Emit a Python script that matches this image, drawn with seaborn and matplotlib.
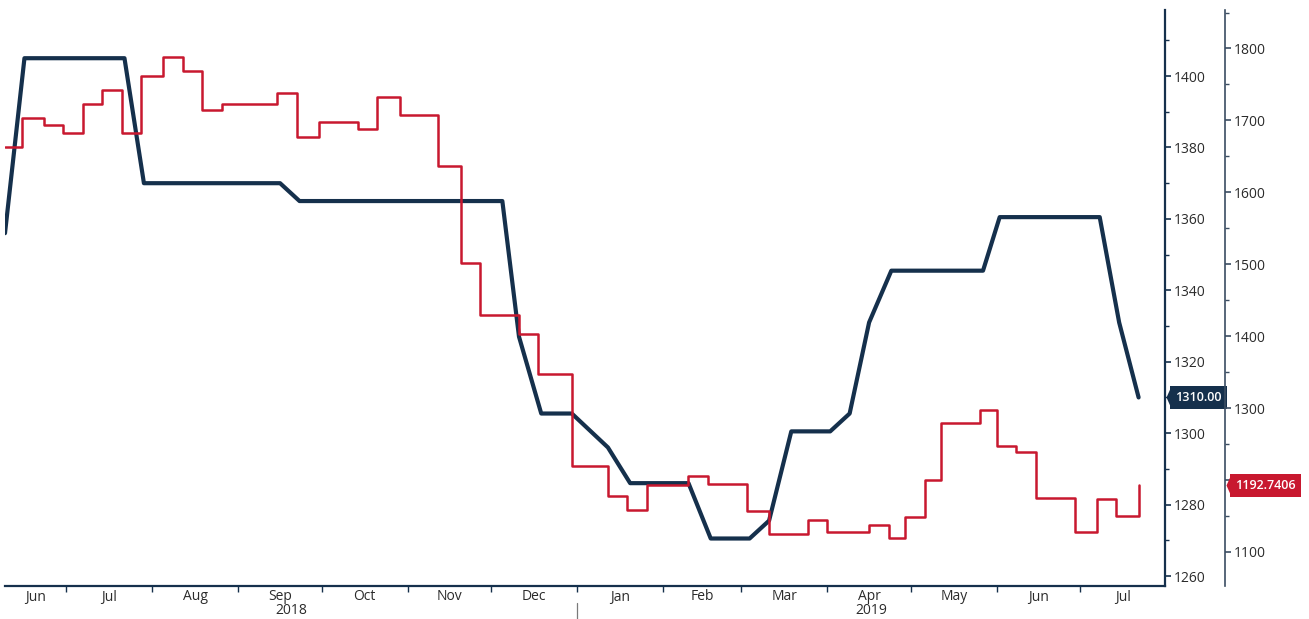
import matplotlib
matplotlib.use("Agg")
import matplotlib.pyplot as plt
import matplotlib.ticker as tik
import matplotlib.transforms as mtrans
import seaborn as sns
import pandas as pd

#### data
# navy line, inner right scale
navy_dates = ["2018-06-09", "2018-06-16", "2018-07-22", "2018-07-29", "2018-09-16",
              "2018-09-23", "2018-12-05", "2018-12-11", "2018-12-19", "2018-12-30",
              "2019-01-12", "2019-01-20", "2019-02-10", "2019-02-18", "2019-03-04",
              "2019-03-11", "2019-03-19", "2019-04-02", "2019-04-09", "2019-04-16",
              "2019-04-24", "2019-05-27", "2019-06-02", "2019-07-08", "2019-07-15",
              "2019-07-22"]
navy_vals = [1356, 1405, 1405, 1370, 1370,
             1365, 1365, 1327, 1305.5, 1305.5,
             1296, 1286, 1286, 1270.5, 1270.5,
             1275.5, 1300.5, 1300.5, 1305.5, 1331,
             1345.5, 1345.5, 1360.5, 1360.5, 1331,
             1310]

# red line, outer right scale (weekly steps)
red_dates = ["2018-06-09", "2018-06-15", "2018-06-23", "2018-06-30", "2018-07-07",
             "2018-07-14", "2018-07-21", "2018-07-28", "2018-08-05", "2018-08-12",
             "2018-08-19", "2018-08-26", "2018-09-15", "2018-09-22", "2018-09-30",
             "2018-10-14", "2018-10-21", "2018-10-29", "2018-11-12", "2018-11-20",
             "2018-11-27", "2018-12-11", "2018-12-18", "2018-12-30", "2019-01-12",
             "2019-01-19", "2019-01-26", "2019-02-10", "2019-02-17", "2019-03-03",
             "2019-03-11", "2019-03-25", "2019-04-01", "2019-04-16", "2019-04-23",
             "2019-04-29", "2019-05-06", "2019-05-12", "2019-05-26", "2019-06-01",
             "2019-06-08", "2019-06-15", "2019-06-29", "2019-07-07", "2019-07-14",
             "2019-07-22"]
red_vals = [1663, 1704, 1694, 1682, 1723,
            1742, 1682, 1762, 1788, 1768,
            1714, 1723, 1738, 1677, 1698,
            1688, 1732, 1707, 1637, 1502,
            1430, 1403, 1348, 1219, 1178,
            1158, 1193, 1206, 1194, 1157,
            1125, 1145, 1128, 1138, 1119,
            1149, 1200, 1279, 1298, 1247,
            1239, 1175, 1128, 1174, 1150,
            1192.7406]

navy_last = "1310.00"
red_last = "1192.7406"

x_from, x_to = pd.Timestamp("2018-06-09"), pd.Timestamp("2019-07-31 12:00")
month_starts = pd.date_range("2018-07-01", "2019-07-01", freq="MS")
month_names = ["Jun", "Jul", "Aug", "Sep", "Oct", "Nov", "Dec",
               "Jan", "Feb", "Mar", "Apr", "May", "Jun", "Jul"]
years = ["2018", "2019"]

navy = "#15304c"
red = "#c8182f"
txt = "#2b2b2b"
slate = "#3b4d62"

sns.set_style("white")
plt.rcParams['font.family'] = ['Open Sans', 'DejaVu Sans']

fig = plt.figure(figsize=(13.09, 6.19), dpi=100)
ax = fig.add_axes([5/1309, 33/619, 1160/1309, 576/619])
ax2 = ax.twinx()

sns.lineplot(x=pd.to_datetime(navy_dates), y=navy_vals, ax=ax,
             color=navy, linewidth=3.0, legend=False, zorder=3)
sns.lineplot(x=pd.to_datetime(red_dates), y=red_vals, ax=ax2,
             color=red, linewidth=1.8, drawstyle="steps-post", legend=False, zorder=2)

ax.set_xlim(x_from, x_to)
ax.set_ylim(1257.2, 1418.5)
ax2.set_ylim(1052.7, 1853.5)
ax.set_xlabel("")
ax.set_ylabel("")
ax2.set_ylabel("")

# inner axis on the right
ax.yaxis.tick_right()
ax.yaxis.set_major_locator(tik.MultipleLocator(20))
ax.yaxis.set_minor_locator(tik.MultipleLocator(10))
ax2.yaxis.set_major_locator(tik.MultipleLocator(100))
ax2.yaxis.set_minor_locator(tik.MultipleLocator(50))
# the last-value tag sits over 1200 on the outer scale
ax2.yaxis.set_major_formatter(tik.FuncFormatter(lambda v, p: "" if abs(v - 1200) < 1 else f"{v:.0f}"))
ax2.spines['right'].set_position(('axes', 1220/1160))

for a in (ax, ax2):
    for s in ('left', 'top'):
        a.spines[s].set_visible(False)
ax2.spines['bottom'].set_visible(False)
ax.spines['right'].set_visible(True)
ax.spines['right'].set_color(navy)
ax.spines['right'].set_linewidth(1.6)
ax.spines['bottom'].set_color(navy)
ax.spines['bottom'].set_linewidth(1.6)
ax2.spines['right'].set_color(slate)
ax2.spines['right'].set_linewidth(1.2)

ax.tick_params(axis='y', which='major', direction='out', length=4, width=1.2,
               color=navy, labelsize=10, labelcolor=txt, pad=2, right=True, left=False)
ax.tick_params(axis='y', which='minor', direction='out', length=3, width=1,
               color=navy, right=True, left=False)
ax2.tick_params(axis='y', which='major', direction='out', length=4, width=1.2,
                color=slate, labelsize=10, labelcolor=txt, pad=2)
ax2.tick_params(axis='y', which='minor', direction='out', length=3, width=1,
                color=slate)

# month ticks and labels
ax.set_xticks(month_starts)
ax.set_xticklabels([])
ax.tick_params(axis='x', which='major', direction='out', length=4, width=1,
               color=navy, bottom=True)
ax.xaxis.set_minor_locator(tik.NullLocator())

xt = ax.get_xaxis_transform()
edges = [x_from] + list(month_starts) + [x_to]
for i, name in enumerate(month_names):
    mid = edges[i] + (edges[i + 1] - edges[i]) / 2
    ax.text(mid, -11/576, name, transform=xt, ha='center', va='center',
            fontsize=10, color=txt)

jan1 = pd.Timestamp("2019-01-01")
for name, (a, b) in zip(years, [(x_from, jan1), (jan1, x_to)]):
    ax.text(a + (b - a) / 2, -25/576, name, transform=xt, ha='center', va='center',
            fontsize=10, color=txt)
ax.plot([jan1, jan1], [-17/576, -34/576], transform=xt, color="#7a7a7a",
        linewidth=0.9, clip_on=False)

# last value tags: box plus a notch pointing at the axis
notch = [(-0.45, 0), (0, 1), (0, -1)]
t1 = mtrans.blended_transform_factory(ax.transAxes, ax.transData)
ax.text(1.0 + 10/1160, 1310, navy_last, transform=t1, ha='left', va='center',
        fontsize=9, color='white', fontweight='semibold', zorder=7,
        bbox=dict(boxstyle='square,pad=0.42', fc=navy, ec='none'), clip_on=False)
ax.plot([1.0 + 6/1160], [1310], transform=t1, marker=notch, ms=16, color=navy,
        markeredgewidth=0, clip_on=False, zorder=5)

t2 = mtrans.blended_transform_factory(ax2.transAxes, ax2.transData)
ax2.text(1220/1160 + 10/1160, 1192.7406, red_last, transform=t2, ha='left', va='center',
         fontsize=9, color='white', fontweight='semibold', zorder=7,
         bbox=dict(boxstyle='square,pad=0.42', fc=red, ec='none'), clip_on=False)
ax2.plot([1220/1160 + 6/1160], [1192.7406], transform=t2, marker=notch, ms=16, color=red,
         markeredgewidth=0, clip_on=False, zorder=5)

fig.savefig("out.png", dpi=100)
